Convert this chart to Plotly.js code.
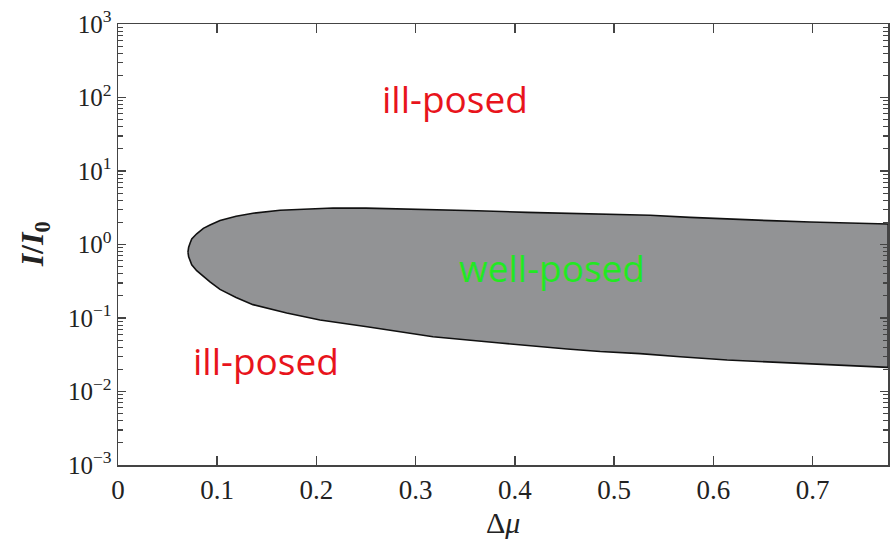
<!DOCTYPE html>
<html>
<head>
<meta charset="utf-8">
<script src="https://cdn.plot.ly/plotly-3.0.1.min.js"></script>
<style>html,body{margin:0;padding:0;background:#fff;}#chart{width:890px;height:549px;}</style>
</head>
<body>
<div id="chart"></div>
<script>
// Upper boundary of the well-posed region (from nose to right edge)
var upperX = [0.0705, 0.0712, 0.0726, 0.0743, 0.0793, 0.086, 0.0927, 0.1028, 0.119, 0.136, 0.1633, 0.2036, 0.2167, 0.25, 0.3014, 0.3619, 0.4123, 0.4556, 0.4859, 0.5363, 0.5766, 0.6169, 0.6573, 0.6976, 0.7379, 0.7762];
var upperY = [0.79, 0.92, 1.04, 1.19, 1.40, 1.66, 1.84, 2.12, 2.42, 2.66, 2.93, 3.06, 3.14, 3.13, 3.04, 2.88, 2.74, 2.64, 2.60, 2.50, 2.34, 2.20, 2.11, 2.02, 1.95, 1.90];
// Lower boundary of the well-posed region (from nose to right edge)
var lowerX = [0.0705, 0.0712, 0.0726, 0.0743, 0.0793, 0.086, 0.0927, 0.1028, 0.119, 0.136, 0.170, 0.2036, 0.251, 0.3175, 0.385, 0.4526, 0.4859, 0.526, 0.5665, 0.6139, 0.6673, 0.7208, 0.7762];
var lowerY = [0.79, 0.68, 0.60, 0.53, 0.44, 0.365, 0.31, 0.245, 0.19, 0.152, 0.117, 0.094, 0.0762, 0.0557, 0.0457, 0.0379, 0.0350, 0.0328, 0.0297, 0.0268, 0.0247, 0.0229, 0.0213];

var yTickVals = [0.001, 0.01, 0.1, 1, 10, 100, 1000];
var yTickText = ["10<sup>−3</sup>", "10<sup>−2</sup>", "10<sup>−1</sup>", "10<sup>0</sup>", "10<sup>1</sup>", "10<sup>2</sup>", "10<sup>3</sup>"];

var labelTexts = ["ill-posed", "ill-posed", "well-posed"];
var labelX = [0.340, 0.149, 0.4375];
var labelY = [98, 0.0268, 0.494];
var labelColors = ["#e8141c", "#e8141c", "#22e822"];

var polyX = upperX.concat(lowerX.slice().reverse());
var polyY = upperY.concat(lowerY.slice().reverse());

var traces = [{
  x: polyX, y: polyY, type: 'scatter', mode: 'lines',
  fill: 'toself', fillcolor: '#929395',
  line: {color: '#111', width: 1.6},
  hoverinfo: 'skip', showlegend: false
}];

var annotations = labelTexts.map(function(t, i){
  return {text: t, x: labelX[i], y: Math.log10(labelY[i]), xref: 'x', yref: 'y',
    showarrow: false, xanchor: 'center', yanchor: 'middle',
    font: {family: 'Open Sans', size: 37, color: labelColors[i]}};
});
annotations.push({text: 'Δ<i>μ</i>', x: 0.5, y: -0.13, xref: 'paper', yref: 'paper',
  showarrow: false, xanchor: 'center', yanchor: 'middle',
  font: {family: 'Liberation Serif', size: 30, color: '#222'}});
annotations.push({text: '<b><i>I</i>/<i>I</i><sub>0</sub></b>', x: -0.108, y: 0.5, xref: 'paper', yref: 'paper',
  showarrow: false, xanchor: 'center', yanchor: 'middle', textangle: -90,
  font: {family: 'Liberation Serif', size: 32, color: '#222'}});

var layout = {
  width: 890, height: 549,
  margin: {l: 118, r: 2, t: 24, b: 84},
  paper_bgcolor: '#fff', plot_bgcolor: '#fff',
  showlegend: false,
  xaxis: {
    range: [0, 0.776], tickmode: 'linear', tick0: 0, dtick: 0.1,
    ticks: 'inside', ticklen: 9, tickwidth: 1.5, tickcolor: '#444',
    showline: true, linecolor: '#444', linewidth: 1.5, mirror: 'ticks',
    showgrid: false, zeroline: false,
    tickfont: {family: 'Liberation Serif', size: 27, color: '#222'}
  },
  yaxis: {
    type: 'log', range: [-3, 3], tickmode: 'array', tickvals: yTickVals, ticktext: yTickText,
    ticks: 'inside', ticklen: 8, tickwidth: 1.5, tickcolor: '#444',
    minor: {ticks: 'inside', ticklen: 5, tickwidth: 1.2, tickcolor: '#444', dtick: 'D1', showgrid: false},
    showline: true, linecolor: '#444', linewidth: 1.5, mirror: 'ticks',
    showgrid: false, zeroline: false,
    tickfont: {family: 'Liberation Serif', size: 25, color: '#222'}
  },
  annotations: annotations
};

Plotly.newPlot('chart', traces, layout, {displayModeBar: false, staticPlot: true});
</script>
</body>
</html>
